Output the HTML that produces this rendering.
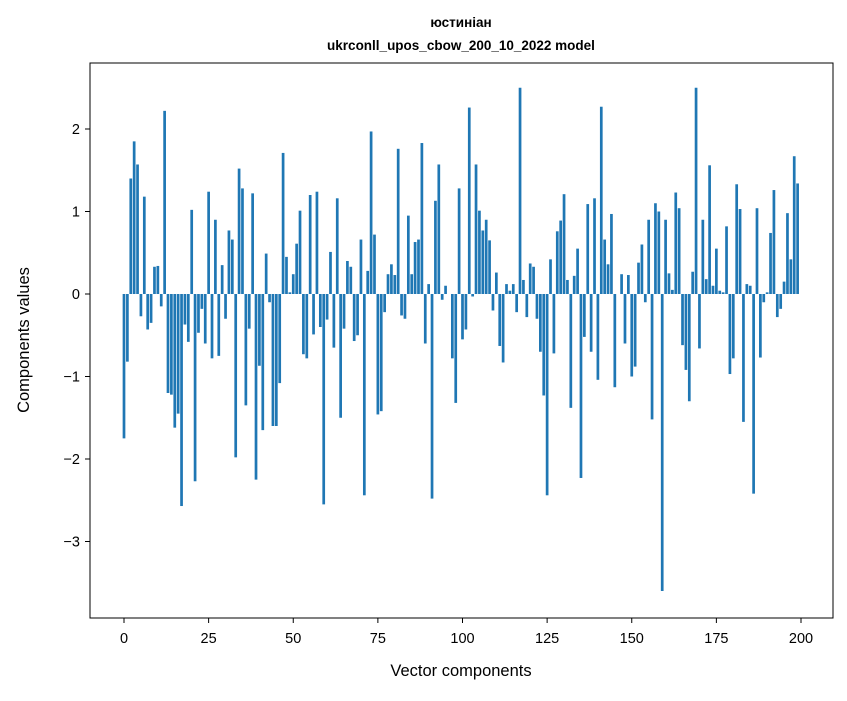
<!DOCTYPE html>
<html><head><meta charset="utf-8"><style>
body{margin:0;background:#fff}
text{font-family:"Liberation Sans","DejaVu Sans",sans-serif;fill:#000}
</style></head><body>
<svg id="c" width="847" height="696" xmlns="http://www.w3.org/2000/svg">
<rect x="0" y="0" width="847" height="696" fill="#fff"/>
<text x="461" y="27" font-size="13.5" font-weight="bold" text-anchor="middle">юстиніан</text>
<text x="461" y="50" font-size="13.5" font-weight="bold" text-anchor="middle">ukrconll_upos_cbow_200_10_2022 model</text>
<g id="bars"></g>
<rect x="90" y="63" width="743" height="555" fill="none" stroke="#000" stroke-width="1"/>
<g id="axes"></g>
<text x="461" y="676" font-size="16.5" text-anchor="middle">Vector components</text>
<text x="29" y="340" font-size="16.5" text-anchor="middle" transform="rotate(-90 29 340)">Components values</text>
</svg>
<script>
const values = [-1.75,-0.82,1.4,1.85,1.57,-0.27,1.18,-0.43,-0.35,0.33,0.34,-0.15,2.22,-1.2,-1.22,-1.62,-1.45,-2.57,-0.37,-0.58,
1.02,-2.27,-0.47,-0.18,-0.6,1.24,-0.78,0.9,-0.75,0.35,-0.3,0.77,0.66,-1.98,1.52,1.28,-1.35,-0.42,1.22,-2.25,
-0.87,-1.65,0.49,-0.1,-1.6,-1.6,-1.08,1.71,0.45,0.02,0.24,0.61,1.01,-0.73,-0.78,1.2,-0.49,1.24,-0.4,-2.55,
-0.31,0.51,-0.65,1.16,-1.5,-0.42,0.4,0.33,-0.57,-0.5,0.66,-2.44,0.28,1.97,0.72,-1.46,-1.42,-0.22,0.24,0.36,
0.23,1.76,-0.26,-0.3,0.95,0.24,0.63,0.66,1.83,-0.6,0.12,-2.48,1.13,1.57,-0.07,0.1,0.0,-0.78,-1.32,1.28,
-0.55,-0.43,2.26,-0.03,1.57,1.01,0.77,0.9,0.65,-0.2,0.26,-0.63,-0.83,0.12,0.04,0.12,-0.22,2.5,0.17,-0.28,
0.37,0.33,-0.3,-0.7,-1.23,-2.44,0.42,-0.72,0.76,0.89,1.21,0.17,-1.38,0.22,0.55,-2.23,-0.52,1.09,-0.7,1.16,
-1.04,2.27,0.66,0.36,0.97,-1.13,0.0,0.24,-0.6,0.23,-1.0,-0.88,0.38,0.6,-0.1,0.9,-1.52,1.1,1.0,-3.6,
0.9,0.25,0.05,1.23,1.04,-0.62,-0.92,-1.3,0.27,2.5,-0.66,0.9,0.18,1.56,0.1,0.55,0.04,0.02,0.82,-0.97,
-0.78,1.33,1.03,-1.55,0.12,0.1,-2.42,1.04,-0.77,-0.1,0.02,0.74,1.26,-0.28,-0.18,0.15,0.98,0.42,1.67,1.34];
const xTicks = [0,25,50,75,100,125,150,175,200];
const yTicks = [2,1,0,-1,-2,-3];
const yTickLabels = ["2","1","0","\u22121","\u22122","\u22123"];
const NS="http://www.w3.org/2000/svg";
function xs(v){return 124+3.385*v;}
function ys(v){return 294-82.5*v;}
const bars=document.getElementById('bars');
values.forEach((v,i)=>{
  const r=document.createElementNS(NS,'rect');
  
  
  const x0=xs(i-0.4), x1=xs(i+0.4);
  const y0=Math.min(ys(v),ys(0)), h=Math.abs(ys(v)-ys(0));
  r.setAttribute('x',x0);r.setAttribute('width',x1-x0);
  r.setAttribute('y',y0);r.setAttribute('height',h);
  r.setAttribute('fill','#1f77b4');
  bars.appendChild(r);
});
const ax=document.getElementById('axes');
xTicks.forEach(t=>{
  const l=document.createElementNS(NS,'line');
  
  
  l.setAttribute('x1',xs(t));l.setAttribute('x2',xs(t));l.setAttribute('y1',618);l.setAttribute('y2',623);l.setAttribute('stroke','#000');
  ax.appendChild(l);
  const tx=document.createElementNS(NS,'text');
  
  
  tx.setAttribute('x',xs(t));tx.setAttribute('y',643);tx.setAttribute('font-size','14.5');tx.setAttribute('text-anchor','middle');
  tx.textContent=String(t);ax.appendChild(tx);
});
yTicks.forEach((t,i)=>{
  const l=document.createElementNS(NS,'line');
  
  
  l.setAttribute('x1',85);l.setAttribute('x2',90);l.setAttribute('y1',ys(t));l.setAttribute('y2',ys(t));l.setAttribute('stroke','#000');
  ax.appendChild(l);
  const tx=document.createElementNS(NS,'text');
  
  
  tx.setAttribute('x',80);tx.setAttribute('y',ys(t)+5);tx.setAttribute('font-size','14.5');tx.setAttribute('text-anchor','end');
  tx.textContent=yTickLabels[i];ax.appendChild(tx);
});
</script>
</body></html>
